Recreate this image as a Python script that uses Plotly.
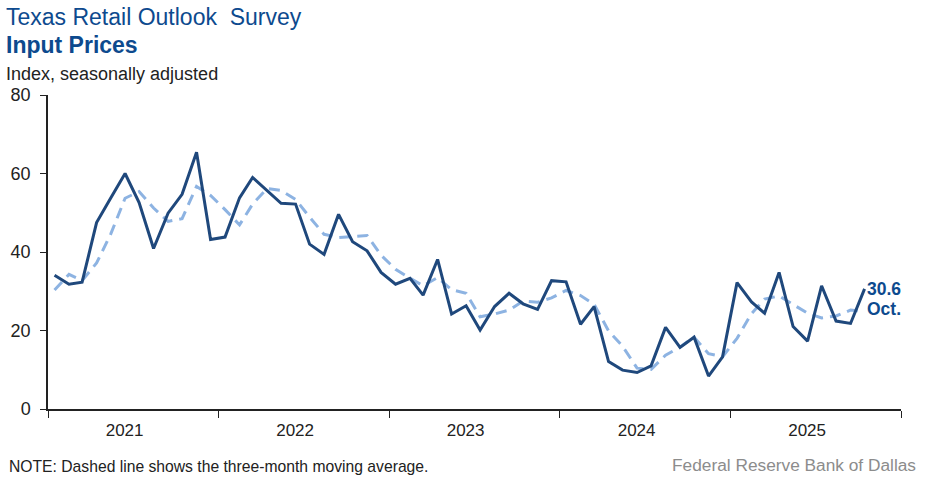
import pandas as pd
import plotly.graph_objects as go

start_month = "2021-01-01"
years = [2021, 2022, 2023, 2024, 2025]
input_prices = [34.1, 31.8, 32.3, 47.5, 53.7, 60.0, 52.6, 40.9, 49.9, 54.7, 65.4, 43.2,
                43.8, 53.8, 59.0, 55.7, 52.4, 52.2, 42.0, 39.4, 49.6, 42.6, 40.3, 34.8,
                31.8, 33.3, 29.0, 38.1, 24.2, 26.3, 20.1, 26.1, 29.5, 26.8, 25.4, 32.7,
                32.4, 21.6, 26.1, 12.1, 9.9, 9.3, 11.0, 20.8, 15.7, 18.3, 8.4, 13.3,
                32.2, 27.3, 24.4, 34.8, 21.0, 17.3, 31.4, 22.4, 21.8, 30.6]
moving_avg = [30.3, 34.3, 32.7, 37.2, 44.5, 53.7, 55.4, 51.2, 47.8, 48.5, 56.7, 54.4,
              50.8, 46.9, 52.2, 56.2, 55.7, 53.4, 48.9, 44.5, 43.7, 43.9, 44.2, 39.2,
              35.6, 33.3, 31.4, 33.5, 30.4, 29.5, 23.5, 24.2, 25.2, 27.5, 27.2, 28.3,
              30.2, 28.9, 26.7, 19.9, 16.0, 10.4, 10.1, 13.7, 15.8, 18.3, 14.1, 13.3,
              18.0, 24.3, 28.0, 28.8, 26.7, 24.4, 23.2, 23.7, 25.2, 24.9]
y_ticks = [0, 20, 40, 60, 80]

months = pd.date_range(start_month, periods=len(input_prices), freq="MS")
x_mid = months + pd.Timedelta(days=14)
year_starts = [f"{y}-01-01" for y in years] + [f"{years[-1] + 1}-01-01"]
label_pos = [f"{y}-06-14" for y in years]

BLUE = "#1F487C"
LIGHT = "#8DB3E2"
TITLE_BLUE = "#0D4A8E"
FONT = "Liberation Sans, Arial, sans-serif"

fig = go.Figure()
fig.add_trace(go.Scatter(x=x_mid, y=moving_avg, mode="lines",
                         line=dict(color=LIGHT, width=3, dash="11px,7px"),
                         hoverinfo="skip"))
fig.add_trace(go.Scatter(x=x_mid, y=input_prices, mode="lines",
                         line=dict(color=BLUE, width=3)))

W, H = 926, 481
L, R, T, B = 48, 25, 95, 72
pw, ph = W - L - R, H - T - B

def px(xp):
    return (xp - L) / pw

def py(yp):
    return (H - B - yp) / ph

annotations = [
    dict(text="Texas Retail Outlook  Survey", x=px(4), y=py(17), xanchor="left", yanchor="middle",
         font=dict(size=23, color=TITLE_BLUE, family=FONT)),
    dict(text="<b>Input Prices</b>", x=px(4), y=py(45), xanchor="left", yanchor="middle",
         font=dict(size=23, color=TITLE_BLUE, family=FONT)),
    dict(text="Index, seasonally adjusted", x=px(4), y=py(74), xanchor="left", yanchor="middle",
         font=dict(size=18, color="#222222", family=FONT)),
    dict(text="NOTE: Dashed line shows the three-month moving average.", x=px(7), y=py(466),
         xanchor="left", yanchor="middle", font=dict(size=15.7, color="#222222", family=FONT)),
    dict(text="Federal Reserve Bank of Dallas", x=px(918), y=py(465), xanchor="right",
         yanchor="middle", font=dict(size=17.3, color="#8C8C8C", family=FONT)),
]
for a in annotations:
    a.update(xref="paper", yref="paper", showarrow=False)

last_x = x_mid[-1]
annotations.append(dict(x=last_x, y=input_prices[-1], xref="x", yref="y", showarrow=False,
                        text=f"<b>{input_prices[-1]:.1f}</b>", xanchor="left", yanchor="middle",
                        xshift=0, yshift=0, font=dict(size=17.5, color=TITLE_BLUE, family=FONT)))
annotations.append(dict(x=last_x, y=input_prices[-1], xref="x", yref="y", showarrow=False,
                        text=f"<b>{months[-1].strftime('%b')}.</b>", xanchor="left", yanchor="middle",
                        xshift=0, yshift=-20, font=dict(size=17.5, color=TITLE_BLUE, family=FONT)))

fig.update_layout(
    width=W, height=H,
    margin=dict(l=L, r=R, t=T, b=B),
    paper_bgcolor="white", plot_bgcolor="white",
    showlegend=False,
    font=dict(family=FONT, color="#222222", size=18),
    annotations=annotations,
)
fig.update_xaxes(
    range=[year_starts[0], year_starts[-1]],
    tickmode="array", tickvals=label_pos, ticktext=[str(y) for y in years],
    ticks="", ticklabelstandoff=5,
    minor=dict(tickmode="array", tickvals=year_starts, ticks="outside", ticklen=7,
               tickcolor="#222222", tickwidth=1, showgrid=False),
    showline=True, linecolor="#222222", linewidth=1.5,
    showgrid=False, zeroline=False,
    tickfont=dict(size=17, color="#222222"),
)
fig.update_yaxes(
    range=[0, 80], tickvals=y_ticks,
    ticks="outside", ticklen=6, tickcolor="#222222",
    ticklabelstandoff=6,
    showline=True, linecolor="#222222", linewidth=1.5,
    showgrid=False, zeroline=False,
    tickfont=dict(size=18, color="#222222"),
)

fig.write_html("out.html", config={"displayModeBar": False},
               post_script="document.body.style.margin='0';")
